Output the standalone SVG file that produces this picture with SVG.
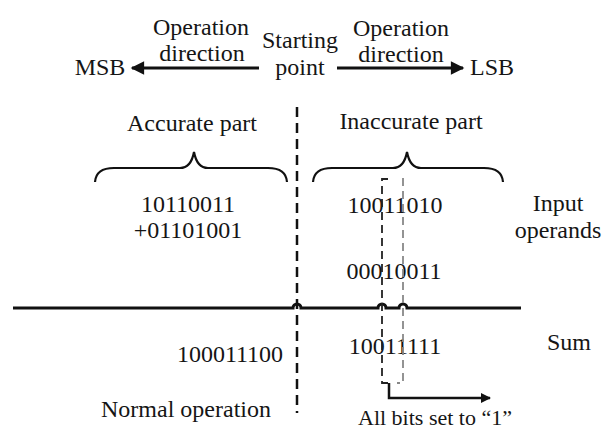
<svg xmlns="http://www.w3.org/2000/svg" width="603" height="429" viewBox="0 0 603 429">
<defs>
<marker id="ah" viewBox="0 0 10 10" refX="9" refY="5" markerWidth="6" markerHeight="4.5" markerUnits="strokeWidth" orient="auto">
<path d="M0 0 L10 5 L0 10 Z" fill="#111"/>
</marker>
<marker id="ah2" viewBox="0 0 10 10" refX="9" refY="5" markerWidth="5" markerHeight="4" markerUnits="strokeWidth" orient="auto">
<path d="M0 0 L10 5 L0 10 Z" fill="#111"/>
</marker>
</defs>
<rect width="603" height="429" fill="#fff"/>
<g font-family="Liberation Serif" font-size="24" text-anchor="middle" fill="#151515">
<g id="msb"><text x="100" y="75">MSB</text></g>
<g id="lsb"><text x="492" y="75">LSB</text></g>
<g id="start"><text x="300" y="48">Starting</text><text x="300" y="75">point</text></g>
<g id="dir-left"><text x="201" y="35">Operation</text><text x="202" y="61">direction</text></g>
<g id="dir-right"><text x="401" y="36">Operation</text><text x="401" y="62">direction</text></g>
<g id="accurate"><text x="192" y="131">Accurate part</text>
<path stroke="#111" stroke-width="2.2" fill="none" d="M95 182 Q96 168 114 168 H180 Q191 168 194 152 Q197 168 208 168 H268 Q286 168 287 182"/></g>
<g id="inaccurate"><text x="411" y="129">Inaccurate part</text>
<path stroke="#111" stroke-width="2.2" fill="none" d="M313 182 Q314 168 332 168 H393 Q404 168 407 152 Q410 168 421 168 H484 Q502 168 503 182"/></g>
<g id="acc-operands"><text x="188" y="212">10110011</text><text x="188" y="238">+01101001</text></g>
<g id="inacc-operands"><text x="395" y="213">10011010</text><text x="394" y="279">00010011</text></g>
<g id="input-label"><text x="558" y="211">Input</text><text x="558" y="238">operands</text></g>
<g id="acc-sum"><text x="230" y="362">100011100</text></g>
<g id="inacc-sum"><text x="395" y="354">10011111</text></g>
<g id="sum-label"><text x="569" y="350">Sum</text></g>
<g id="normal"><text x="186" y="417">Normal operation</text></g>
<g id="allbits"><text x="358" y="425" font-size="22" text-anchor="start">All bits set to “1”</text></g>
</g>
<g id="connectors" fill="none">
<line stroke="#111" stroke-width="3" x1="259" y1="68" x2="132" y2="68" marker-end="url(#ah)"/>
<line stroke="#111" stroke-width="3" x1="337" y1="68" x2="463" y2="68" marker-end="url(#ah)"/>
<path stroke="#111" stroke-width="3" d="M13 308 H293 a4 4 0 0 1 8 0 H378 a4 4 0 0 1 8 0 H399 a4 4 0 0 1 8 0 H521"/>
<line stroke="#111" stroke-width="2.5" stroke-dasharray="10 6" x1="297" y1="107" x2="297" y2="413"/>
<path stroke="#222" stroke-width="1.8" stroke-dasharray="8 5" d="M388 179 H382 V383 H392"/>
<path stroke="#888" stroke-width="1.8" stroke-dasharray="8 5" d="M403 178 V383 H397"/>
<path stroke="#111" stroke-width="2.5" d="M389 383 V398 H490" marker-end="url(#ah2)"/>
</g>
</svg>
